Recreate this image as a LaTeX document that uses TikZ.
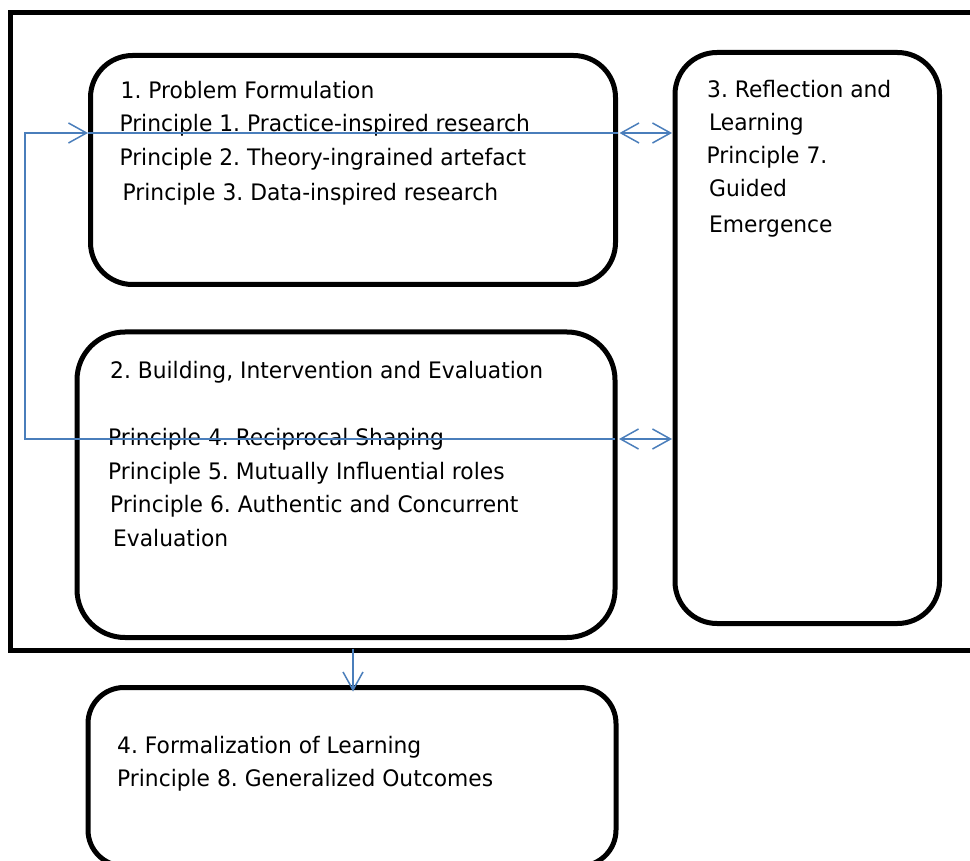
\documentclass[tikz,border=0pt]{standalone}
\usepackage{fontspec}
\setmainfont[FakeStretch=0.96]{DejaVu Sans}
\usetikzlibrary{arrows.meta,fit}
\definecolor{linkblue}{HTML}{4A7EBB}
\frenchspacing
\begin{document}
\begin{tikzpicture}[x=1pt,y=-1pt,
  box/.style={draw=black, line width=5pt, rounded corners=#1, inner sep=0pt, outer sep=0pt},
  frame/.style={draw=black, line width=4.5pt, inner sep=0pt, outer sep=0pt},
  txt/.style={anchor=base west, inner sep=0pt, font=\fontsize{22.7}{27}\selectfont},
  conn/.style={draw=linkblue, line width=1.5pt},
  barb/.tip={Straight Barb[length=18pt,width=20pt,line width=1.5pt]}]
\useasboundingbox (0,0) rectangle (970,861);
% frame and boxes
\node[frame, fit={(10.5,12.5) (978,650.5)}] (outer) {};
\node[box=42pt, fit={(90.5,55.5) (615.5,284.5)}] (b1) {};
\node[box=48pt, fit={(77,332) (615,637.5)}] (b2) {};
\node[box=42pt, fit={(675,52.5) (939.5,623.5)}] (b3) {};
\node[box=36pt, fit={(88,687.5) (616,866)}] (b4) {};
% texts box 1
\node[txt] (t11) at (120.5,99) {1. Problem Formulation};
\node[txt] (t12) at (119.3,132) {Principle 1. Practice-inspired research};
\node[txt] (t13) at (119.3,166) {Principle 2. Theory-ingrained artefact};
\node[txt] (t14) at (122.5,201) {Principle 3. Data-inspired research};
% texts box 3
\node[txt] (t31) at (707,98) {3. Reflection and};
\node[txt] (t32) at (709,131) {Learning};
\node[txt] (t33) at (706.5,164) {Principle 7.};
\node[txt] (t34) at (709,197) {Guided};
\node[txt] (t35) at (709,233) {Emergence};
% texts box 2
\node[txt] (t21) at (110,378) {2. Building, Intervention and Evaluation};
\node[txt] (t22) at (108,445) {Principle 4. Reciprocal Shaping};
\node[txt] (t23) at (108,479) {Principle 5. Mutually Influential roles};
\node[txt] (t24) at (110,512) {Principle 6. Authentic and Concurrent};
\node[txt] (t25) at (113,546) {Evaluation};
% texts box 4
\node[txt] (t41) at (117,753) {4. Formalization of Learning};
\node[txt] (t42) at (117,786) {Principle 8. Generalized Outcomes};
% connectors
\coordinate (p1) at (25,439);
\coordinate (p2) at (25,133);
\coordinate (dx) at (353,0);
\draw[conn, -barb] (b2.east |- p1) -- (p1) -- (p2) -- ([xshift=-2.5pt]b1.west |- p2);
\draw[conn] ([xshift=-2.5pt]b1.west |- p2) -- ([xshift=2.5pt]b1.east |- p2);
\draw[conn, barb-barb] ([xshift=4pt]b1.east |- p2) -- ([xshift=-3pt]b3.west |- p2);
\draw[conn, barb-barb] ([xshift=4pt]b2.east |- p1) -- ([xshift=-3pt]b3.west |- p1);
\draw[conn, -barb] ([yshift=2pt]outer.south -| dx) -- ([yshift=-4pt]b4.north -| dx);
\end{tikzpicture}
\end{document}
